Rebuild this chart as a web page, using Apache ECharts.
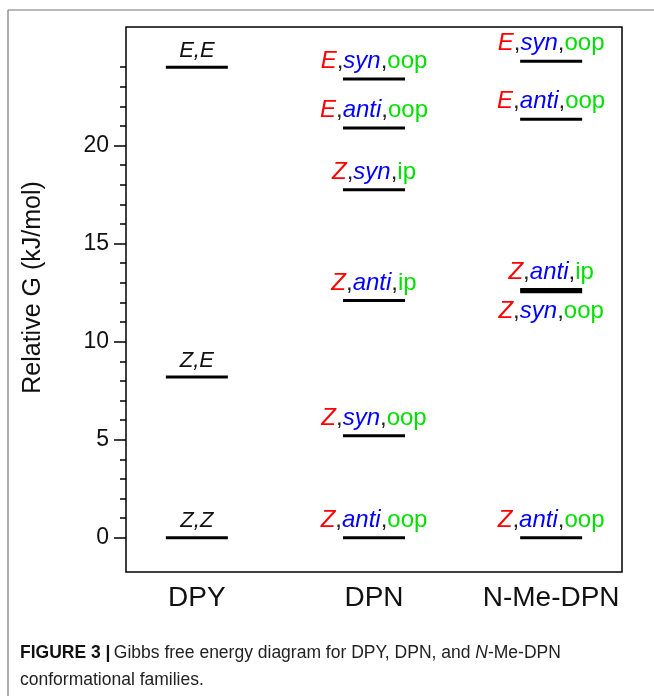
<!DOCTYPE html>
<html>
<head>
<meta charset="utf-8">
<script src="https://cdn.jsdelivr.net/npm/echarts@6/dist/echarts.min.js"></script>
<style>
  html, body { margin: 0; padding: 0; background: #fff; }
  #chart { width: 654px; height: 696px; }
</style>
</head>
<body>
<div id="chart"></div>
<script>
const families = ['DPY', 'DPN', 'N-Me-DPN']
const dpyLabels = ['Z,Z', 'Z,E', 'E,E']
const dpyValues = [0, 8.2, 24.0]
const dpnLabels = ['Z,anti,oop', 'Z,syn,oop', 'Z,anti,ip', 'Z,syn,ip', 'E,anti,oop', 'E,syn,oop']
const dpnValues = [0, 5.2, 12.1, 17.75, 20.9, 23.4]
const nmeLabels = ['Z,anti,oop', 'Z,syn,oop', 'Z,anti,ip', 'E,anti,oop', 'E,syn,oop']
const nmeValues = [0, 12.54, 12.66, 21.35, 24.3]
const majorTicks = [0, 5, 10, 15, 20]
const minorTicks = [1, 2, 3, 4, 6, 7, 8, 9, 11, 12, 13, 14, 16, 17, 18, 19, 21, 22, 23, 24]

const FONT = '"Liberation Sans", Arial, sans-serif'

// 构象名 -> 富文本
function richName(name) {
  const p = name.split(',')
  if (p.length === 2) return '{k|' + p[0] + '}{k|,}{k|' + p[1] + '}'
  return '{r|' + p[0] + '}{c|,}{b|' + p[1] + '}{c|,}{g|' + p[2] + '}'
}

const rich = {
  r: { color: '#ff0000', fontSize: 24, fontStyle: 'italic', fontFamily: FONT },
  b: { color: '#0000ff', fontSize: 24, fontStyle: 'italic', fontFamily: FONT },
  g: { color: '#00e000', fontSize: 24, fontFamily: FONT },
  c: { color: '#222', fontSize: 24, fontFamily: FONT },
  k: { color: '#111', fontSize: 22, fontStyle: 'italic', fontFamily: FONT }
}

function levels(x, names, values, below) {
  return values.map((v, i) => {
    const down = below && below.indexOf(names[i]) >= 0
    return {
      value: [x, v],
      label: {
        show: true,
        position: down ? 'bottom' : 'top',
        distance: down ? 6 : 4,
        formatter: richName(names[i]),
        rich: rich
      }
    }
  })
}

function levelSeries(data) {
  return {
    type: 'scatter',
    symbol: 'rect',
    symbolSize: [62, 3],
    itemStyle: { color: '#000', opacity: 1 },
    silent: true,
    emphasis: { disabled: true },
    data: data
  }
}

const chart = echarts.init(document.getElementById('chart'))
chart.setOption({
  animation: false,
  grid: {
    left: 126, top: 27, right: 32, bottom: 124,
    show: true, borderColor: '#000', borderWidth: 1.5
  },
  xAxis: {
    type: 'value', min: 0.6, max: 3.4,
    splitLine: { show: false },
    axisLine: { show: false },
    axisTick: { show: false },
    axisLabel: {
      customValues: [1, 2, 3],
      formatter: v => families[Math.round(v) - 1],
      margin: 12,
      fontSize: 28,
      color: '#111',
      fontFamily: FONT
    }
  },
  yAxis: [{
    type: 'value', min: -1.75, max: 26.05,
    name: 'Relative G (kJ/mol)',
    nameLocation: 'middle',
    nameGap: 80,
    nameTextStyle: { fontSize: 25, color: '#111', fontFamily: FONT, padding: [0, 0, 0, 24] },
    splitLine: { show: false },
    axisLine: { show: false },
    axisTick: { show: true, customValues: majorTicks, length: 12, lineStyle: { color: '#000', width: 1.5 } },
    axisLabel: { customValues: majorTicks, fontSize: 23, color: '#111', margin: 17, fontFamily: FONT }
  }, {
    type: 'value', min: -1.75, max: 26.05, position: 'left',
    splitLine: { show: false },
    axisLine: { show: false },
    axisTick: { show: true, customValues: minorTicks, length: 6, lineStyle: { color: '#000', width: 1.5 } },
    axisLabel: { show: false }
  }],
  series: [
    levelSeries(levels(1, dpyLabels, dpyValues)),
    levelSeries(levels(2, dpnLabels, dpnValues)),
    levelSeries(levels(3, nmeLabels, nmeValues, ['Z,syn,oop']))
  ],
  graphic: [
    { type: 'line', shape: { x1: 8, y1: 10, x2: 654, y2: 10 }, style: { stroke: '#777', lineWidth: 1.2 } },
    { type: 'line', shape: { x1: 8, y1: 10, x2: 8, y2: 696 }, style: { stroke: '#777', lineWidth: 1.2 } },
    {
      type: 'text', left: 20, top: 644,
      style: {
        text: '{b|FIGURE 3 |} {t|Gibbs free energy diagram for DPY, DPN, and }{i|N}{t|-Me-DPN}',
        rich: {
          b: { fontSize: 17.5, fontWeight: 'bold', fill: '#111', fontFamily: FONT },
          t: { fontSize: 17.5, fill: '#222', fontFamily: FONT },
          i: { fontSize: 17.5, fontStyle: 'italic', fill: '#222', fontFamily: FONT }
        }
      }
    },
    {
      type: 'text', left: 20, top: 671,
      style: { text: 'conformational families.', fontSize: 17.5, fill: '#222', fontFamily: FONT }
    }
  ]
})
</script>
</body>
</html>
